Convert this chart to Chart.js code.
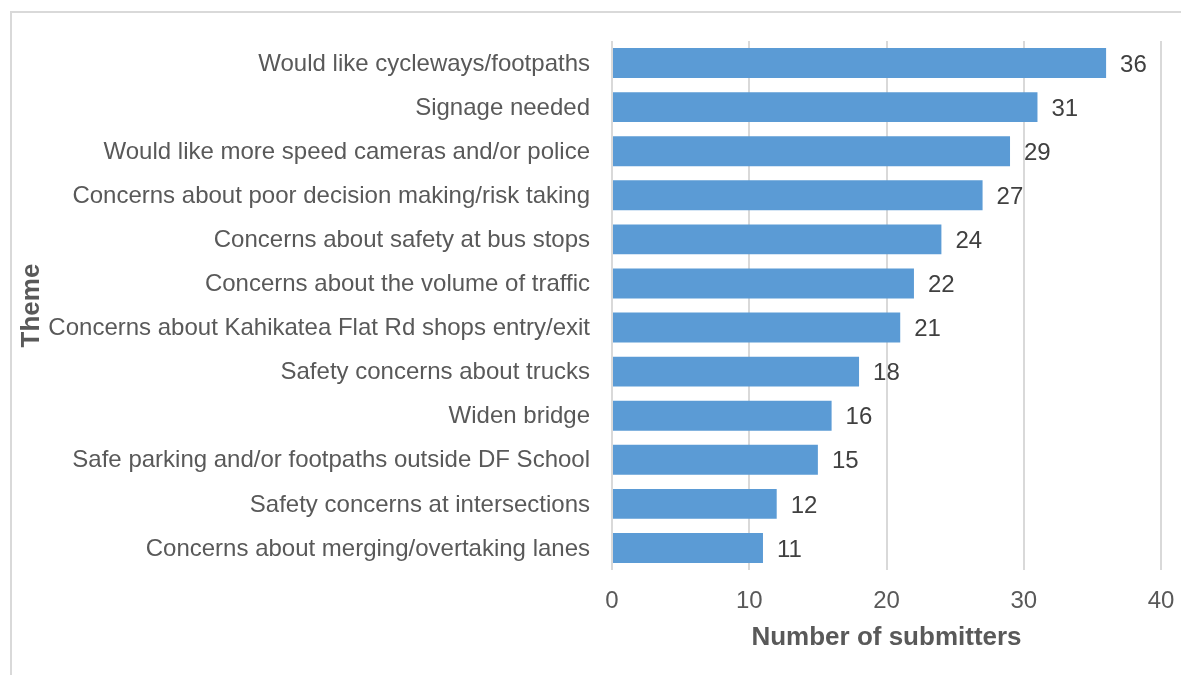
<!DOCTYPE html>
<html>
<head>
<meta charset="utf-8">
<script src="https://cdn.jsdelivr.net/npm/chart.js@4/dist/chart.umd.min.js"></script>
<style>
  html, body { margin: 0; padding: 0; background: #fff; overflow: hidden; }
  #frame {
    position: absolute; left: 10px; top: 11px; width: 1300px; height: 800px;
    border-left: 2px solid #d9d9d9; border-top: 2px solid #d9d9d9;
  }
  #wrap { position: absolute; left: 0; top: 0; width: 1181px; height: 675px; }
</style>
</head>
<body>
<div id="frame"></div>
<div id="wrap"><canvas id="chart"></canvas></div>
<script>
const themes = [
    'Would like cycleways/footpaths',
    'Signage needed',
    'Would like more speed cameras and/or police',
    'Concerns about poor decision making/risk taking',
    'Concerns about safety at bus stops',
    'Concerns about the volume of traffic',
    'Concerns about Kahikatea Flat Rd shops entry/exit',
    'Safety concerns about trucks',
    'Widen bridge',
    'Safe parking and/or footpaths outside DF School',
    'Safety concerns at intersections',
    'Concerns about merging/overtaking lanes'
];
const submitters = [36, 31, 29, 27, 24, 22, 21, 18, 16, 15, 12, 11];
const xTicks = [0, 10, 20, 30, 40];

const FONT = "'Liberation Sans', Arial, sans-serif";

// draws the value to the right of each bar
const valueLabels = {
    id: 'valueLabels',
    afterDatasetsDraw(chart) {
        const ctx = chart.ctx;
        const meta = chart.getDatasetMeta(0);
        ctx.save();
        ctx.font = '24px ' + FONT;
        ctx.fillStyle = '#404040';
        ctx.textAlign = 'left';
        ctx.textBaseline = 'middle';
        meta.data.forEach((bar, i) => {
            ctx.fillText(String(submitters[i]), bar.x + 14, bar.y + 2);
        });
        ctx.restore();
    }
};

new Chart(document.getElementById('chart'), {
    type: 'bar',
    data: {
        labels: themes,
        datasets: [{
            data: submitters,
            backgroundColor: '#5b9bd5',
            borderWidth: 0,
            barPercentage: 0.68,
            categoryPercentage: 1
        }]
    },
    options: {
        indexAxis: 'y',
        responsive: true,
        maintainAspectRatio: false,
        animation: false,
        layout: { padding: { left: 16, right: 20, top: 41, bottom: 20 } },
        plugins: {
            legend: { display: false },
            tooltip: { enabled: false }
        },
        scales: {
            x: {
                min: 0,
                max: 40,
                afterBuildTicks: (scale) => { scale.ticks = xTicks.map(v => ({ value: v })); },
                afterFit: (scale) => {
                    scale.height = 85;
                    scale.paddingLeft = 0;
                    scale.paddingRight = 0;
                },
                grid: { color: '#d9d9d9', lineWidth: 2, drawTicks: false },
                border: { display: false },
                ticks: { color: '#595959', font: { family: FONT, size: 24 }, padding: 17 },
                title: {
                    display: true,
                    text: 'Number of submitters',
                    color: '#595959',
                    font: { family: FONT, size: 26, weight: 'bold' },
                    padding: { top: 0, bottom: 2 }
                }
            },
            y: {
                afterFit: (scale) => { scale.width = 596; },
                grid: { display: false, drawTicks: false },
                border: { display: false },
                ticks: {
                    color: '#595959',
                    font: { family: FONT, size: 24 },
                    padding: 22,
                    labelOffset: 1
                },
                title: {
                    display: true,
                    text: 'Theme',
                    color: '#595959',
                    font: { family: FONT, size: 26, weight: 'bold' },
                    padding: { top: 0, bottom: 0 }
                }
            }
        }
    },
    plugins: [valueLabels]
});
</script>
</body>
</html>
